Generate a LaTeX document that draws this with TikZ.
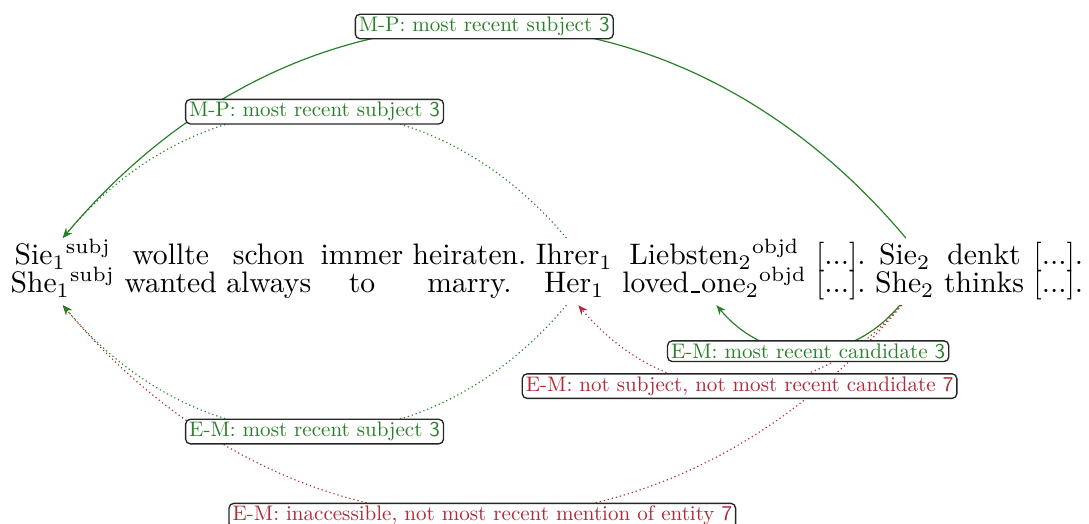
\documentclass[tikz,border=0pt]{standalone}
\usepackage{graphicx}
\usetikzlibrary{matrix,arrows.meta}
\definecolor{relgreen}{RGB}{40,128,40}
\definecolor{relred}{RGB}{180,40,55}
% short underscore rule, as in the classic text fonts
\newcommand\lowbar{\leavevmode\kern.06em\vbox{\hrule width.3em}\kern.06em}
% label text: the 10pt design set at a reduced size
\newcommand\tagtext[1]{\scalebox{0.71}{#1}}
\begin{document}
\begin{tikzpicture}[x=0.3373pt, y=-0.3373pt,
  word/.style={inner sep=0pt, text height=8.77pt, text depth=4.05pt},
  link/.style={line width=0.4pt, -{Stealth[length=3.2pt,width=2.6pt]}},
  dotlink/.style={link, densely dotted},
  arcup/.style={out=130, in=50, looseness=1.12},
  arcdown/.style={out=-130, in=-50, looseness=1.12},
  tag/.style={draw=black!85, fill=white, rounded corners=1.6pt, line width=0.45pt,
              inner xsep=1.2pt, inner ysep=0.95pt, font=\normalsize},
  greentag/.style={tag, text=relgreen},
  redtag/.style={tag, text=relred},
]
\useasboundingbox (0,0) rectangle (1089,524);

% sentence and its gloss, one column per word
\matrix (m) [matrix of nodes, anchor=north west, inner sep=0pt,
             column sep=3.2pt, row sep=-3.37pt, nodes={word}] at (10,238) {
|(sie1)| Sie\textsubscript{1}\textsuperscript{subj} & wollte & schon & immer & heiraten. &
|(ihrer)| Ihrer\textsubscript{1} & |(lieb)| Liebsten\textsubscript{2}\textsuperscript{objd} &
{[...].} & |(sie2)| Sie\textsubscript{2} & denkt & {[...].} \\
|(she1)| She\textsubscript{1}\textsuperscript{subj} & wanted & always & to & marry. &
|(her)| Her\textsubscript{1} & |(loved)| loved\lowbar one\textsubscript{2}\textsuperscript{objd} &
{[...].} & |(she2)| She\textsubscript{2} & thinks & {[...].} \\
};

% links below the gloss
\draw[dotlink, relred] ([shift={(-3,0)}]she2.south) to[arcdown] coordinate[pos=0.5] (cf) (she1.south);
\draw[dotlink, relgreen] ([shift={(-8,0)}]her.south) to[arcdown] coordinate[pos=0.5] (ce) (she1.south);
\draw[dotlink, relred] ([shift={(-4,0)}]she2.south) to[arcdown] coordinate[pos=0.5] (cd) ([shift={(4,0)}]her.south);
\draw[link, relgreen] ([shift={(-5,0)}]she2.south) to[arcdown] coordinate[pos=0.5] (cc) ([shift={(2,0)}]loved.south);

% links above the sentence
\draw[dotlink, relgreen] ([shift={(-8,0)}]ihrer.north) to[arcup] coordinate[pos=0.5] (cb) (sie1.north);
\draw[link, relgreen] ([shift={(1,0)}]sie2.north) to[arcup] coordinate[pos=0.5] (ca) (sie1.north);

% relation labels
\node[greentag] (la) at (ca) {\tagtext{M-P: most recent subject \textsf{3}}};
\node[greentag] (lb) at (cb) {\tagtext{M-P: most recent subject \textsf{3}}};
\node[greentag] (lc) at (cc) {\tagtext{E-M: most recent candidate \textsf{3}}};
\node[redtag] (ld) at (cd) {\tagtext{E-M: not subject, not most recent candidate \textsf{7}}};
\node[greentag] (le) at (ce) {\tagtext{E-M: most recent subject \textsf{3}}};
\node[redtag] (lf) at (cf) {\tagtext{E-M: inaccessible, not most recent mention of entity \textsf{7}}};
\end{tikzpicture}
\end{document}
